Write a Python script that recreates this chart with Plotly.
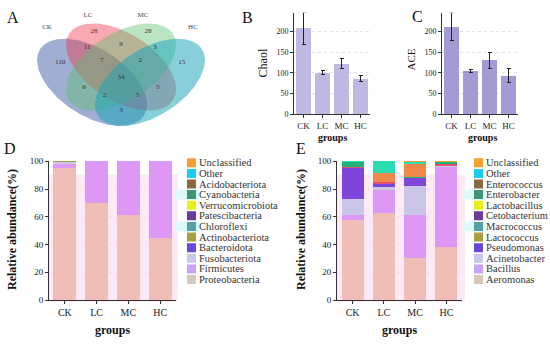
import numpy as np
import plotly.graph_objects as go

W, H = 550, 347
FONT = "Liberation Serif"

# ---------------- data ----------------
venn_sets = ["CK", "LC", "MC", "HC"]
venn_counts = [110, 28, 28, 15, 11, 9, 3, 7, 2, 34, 6, 5, 2, 5, 3]
# regions: CK, LC, MC, HC, CK&LC, LC&MC, MC&HC, CK&LC&MC, LC&MC&HC, all, CK&MC, LC&HC, CK&MC&HC, CK&LC&HC, CK&HC

groups = ["CK", "LC", "MC", "HC"]
chao1_mean = [207, 100, 122, 86]
chao1_sd = [39, 5.5, 13, 7.5]
ace_mean = [211, 104, 130, 93]
ace_sd = [34, 3, 19, 16]

# Panel D (phylum), stacked bottom -> top
phyla = ["Proteobacteria", "Firmicutes", "Fusobacteriota", "Bacteroidota", "Actinobacteriota",
         "Chloroflexi", "Patescibacteria", "Verrucomicrobiota", "Cyanobacteria",
         "Acidobacteriota", "Other", "Unclassified"]
proteobacteria = [95.0, 69.8, 61.0, 45.0]
firmicutes = [3.2, 30.1, 38.9, 54.9]
fusobacteriota = [1.5, 0.02, 0.02, 0.02]
bacteroidota = [0.1, 0.02, 0.02, 0.02]
actinobacteriota = [0.05, 0.01, 0.01, 0.01]
chloroflexi = [0.02, 0.01, 0.01, 0.01]
patescibacteria = [0.02, 0.01, 0.01, 0.01]
verrucomicrobiota = [0.02, 0.01, 0.01, 0.01]
cyanobacteria = [0.02, 0.01, 0.01, 0.01]
acidobacteriota = [0.02, 0.01, 0.01, 0.01]
other_phylum = [0.03, 0.01, 0.01, 0.01]
unclassified_phylum = [0.02, 0.01, 0.01, 0.01]
phylum_values = [proteobacteria, firmicutes, fusobacteriota, bacteroidota, actinobacteriota,
                 chloroflexi, patescibacteria, verrucomicrobiota, cyanobacteria,
                 acidobacteriota, other_phylum, unclassified_phylum]

# Panel E (genus), stacked bottom -> top
genera = ["Aeromonas", "Bacillus", "Acinetobacter", "Pseudomonas", "Lactococcus",
          "Macrococcus", "Cetobacterium", "Lactobacillus", "Enterobacter",
          "Enterococcus", "Other", "Unclassified"]
aeromonas = [57.5, 62.8, 30.2, 38.1]
bacillus = [3.5, 16.4, 30.8, 57.9]
acinetobacter = [12.0, 2.2, 20.9, 0.3]
pseudomonas = [22.0, 2.3, 5.7, 0.3]
lactococcus = [0.1, 0.1, 0.0, 0.1]
macrococcus = [0.1, 0.1, 0.0, 0.1]
cetobacterium = [0.7, 1.0, 0.0, 1.2]
lactobacillus = [0.1, 0.1, 0.0, 0.1]
enterobacter = [3.6, 0.2, 1.0, 1.0]
enterococcus = [0.1, 6.4, 9.6, 0.4]
other_genus = [0.2, 8.3, 1.2, 0.3]
unclassified_genus = [0.1, 0.1, 0.6, 0.2]
genus_values = [aeromonas, bacillus, acinetobacter, pseudomonas, lactococcus, macrococcus,
                cetobacterium, lactobacillus, enterobacter, enterococcus, other_genus,
                unclassified_genus]

# ---------------- styles ----------------
phylum_bar_colors = ["#F0BEB6", "#DC98F4", "#C9C6E8", "#6A48D8", "#A8A040", "#58A0A8",
                     "#6C3C98", "#E8F018", "#3E9474", "#8A6840", "#18CFF0", "#F7A030"]
legend_colors = ["#D8C8BC", "#C8A4F8", "#C8C8EC", "#6848D8", "#A8A040", "#58A0A8",
                 "#6C3C98", "#E8F018", "#3E9474", "#8A6840", "#18CFF0", "#F7A030"]
genus_bar_colors = ["#F0BEB6", "#DC98F4", "#C9C6E8", "#7E46D8", "#A8A040", "#4AA0A0",
                    "#E2506E", "#E8F030", "#20B07A", "#F0884A", "#2CDCB2", "#F5A030"]

venn_fill = ["rgba(55,85,160,0.48)", "rgba(240,50,70,0.42)",
             "rgba(90,190,110,0.42)", "rgba(25,165,185,0.52)"]
venn_geom = [(0.35, 0.47, 135), (0.5, 0.57, 135), (0.5, 0.57, 45), (0.65, 0.47, 45)]
venn_a, venn_b = 0.35, 0.2
venn_count_xy = [(0.185, 0.600), (0.36, 0.804), (0.64, 0.804), (0.815, 0.600),
                 (0.324, 0.699), (0.5, 0.721), (0.676, 0.699), (0.40, 0.613),
                 (0.60, 0.613), (0.5, 0.505), (0.31, 0.435), (0.69, 0.435),
                 (0.415, 0.384), (0.585, 0.384), (0.5, 0.288)]
venn_setlabel_xy = [(0.117, 0.83), (0.329, 0.906), (0.614, 0.906), (0.873, 0.83)]


def px_x(p):
    return p / W


def px_y(p):
    return 1 - p / H


fig = go.Figure()

# ---------------- Panel A : Venn ----------------
t = np.linspace(0, 2 * np.pi, 241)
for (cx, cy, ang), col, name in zip(venn_geom, venn_fill, venn_sets):
    th = np.deg2rad(ang)
    ex = cx + venn_a * np.cos(t) * np.cos(th) - venn_b * np.sin(t) * np.sin(th)
    ey = cy + venn_a * np.cos(t) * np.sin(th) + venn_b * np.sin(t) * np.cos(th)
    fig.add_trace(go.Scatter(x=ex, y=ey, mode="lines", fill="toself", fillcolor=col,
                             line=dict(width=0), hoverinfo="skip", showlegend=False,
                             xaxis="x", yaxis="y", name=name))
fig.add_trace(go.Scatter(x=[p[0] for p in venn_count_xy], y=[p[1] for p in venn_count_xy],
                         mode="text", text=[str(v) for v in venn_counts],
                         textfont=dict(family=FONT, size=7, color="#333333"),
                         showlegend=False, xaxis="x", yaxis="y"))
fig.add_trace(go.Scatter(x=[p[0] for p in venn_setlabel_xy], y=[p[1] for p in venn_setlabel_xy],
                         mode="text", text=venn_sets,
                         textfont=dict(family=FONT, size=7, color="#444444"),
                         showlegend=False, xaxis="x", yaxis="y"))

# ---------------- Panels B, C ----------------
err_style = dict(type="data", color="#222222", thickness=1, width=2)
fig.add_trace(go.Bar(x=groups, y=chao1_mean, error_y=dict(array=chao1_sd, **err_style),
                     marker=dict(color="#BEB8E2", line=dict(width=0)), width=0.84,
                     cliponaxis=False, showlegend=False, xaxis="x2", yaxis="y2"))
fig.add_trace(go.Bar(x=groups, y=ace_mean, error_y=dict(array=ace_sd, **err_style),
                     marker=dict(color="#A29BD4", line=dict(width=0)), width=0.74,
                     cliponaxis=False, showlegend=False, xaxis="x3", yaxis="y3"))

# ---------------- Panel D ----------------
for name, vals, col in zip(phyla, phylum_values, phylum_bar_colors):
    fig.add_trace(go.Bar(x=groups, y=vals, name=name, marker=dict(color=col, line=dict(width=0)),
                         width=0.73, showlegend=False, xaxis="x4", yaxis="y4"))

# ---------------- Panel E ----------------
for name, vals, col in zip(genera, genus_values, genus_bar_colors):
    fig.add_trace(go.Bar(x=groups, y=vals, name=name, marker=dict(color=col, line=dict(width=0)),
                         width=0.71, showlegend=False, xaxis="x5", yaxis="y5"))

# ---------------- hand-made legends ----------------
ann = []
LEG_TOP, LEG_STEP = 163, 10.9
for names, ax, ay, x_sw, x_tx in [(phyla, "x6", "y6", 191.5, 197.5), (genera, "x7", "y7", 478.5, 484.5)]:
    rev_names = names[::-1]
    rev_cols = legend_colors[::-1]
    ys = [LEG_TOP + LEG_STEP * i for i in range(len(rev_names))]
    fig.add_trace(go.Scatter(x=[x_sw] * len(ys), y=ys, mode="markers",
                             marker=dict(symbol="square", size=9, color=rev_cols, line=dict(width=0)),
                             showlegend=False, xaxis=ax, yaxis=ay, hoverinfo="skip"))
    for nm, yy in zip(rev_names, ys):
        ann.append(dict(x=x_tx, y=yy, xref=ax, yref=ay, text=nm, showarrow=False,
                        xanchor="left", yanchor="middle", borderpad=0,
                        font=dict(family=FONT, size=10.5, color="#333333")))

# ---------------- layout ----------------
def bar_x(d0, d1, size):
    return dict(domain=[px_x(d0), px_x(d1)], range=[-0.5, 3.5], showline=True, linecolor="#333333",
                linewidth=1, ticks="outside", ticklen=3, tickcolor="#333333",
                tickfont=dict(family=FONT, size=size, color="#222222"), showgrid=False,
                zeroline=False, fixedrange=True)


def bar_y(top, bot, rng, dtick, size, gridcol):
    return dict(domain=[px_y(bot), px_y(top)], range=rng, dtick=dtick, showline=True,
                linecolor="#333333", linewidth=1, ticks="outside", ticklen=3, tickcolor="#333333",
                tickfont=dict(family=FONT, size=size, color="#222222"), showgrid=True,
                gridcolor=gridcol, griddash="dot", gridwidth=1, zeroline=False)


hidden = dict(visible=False, showgrid=False, zeroline=False)

layout = dict(
    width=W, height=H, margin=dict(l=0, r=0, t=0, b=0), paper_bgcolor="white",
    plot_bgcolor="rgba(0,0,0,0)", barmode="stack", bargap=0.2, showlegend=False,
    xaxis=dict(domain=[0, px_x(215)], range=[0.5 - 121 / 193, 0.5 + 94 / 193], **hidden),
    yaxis=dict(domain=[px_y(140), 1], range=[0.855 - 120 / 157, 0.855 + 20 / 157], **hidden),
    xaxis2=dict(bar_x(294, 370, 9), anchor="y2"),
    yaxis2=dict(bar_y(9, 113, [0, 245], 50, 8, "#E4E4E4"), anchor="x2"),
    xaxis3=dict(bar_x(442, 518, 9), anchor="y3"),
    yaxis3=dict(bar_y(9, 113, [0, 245], 50, 8, "#E4E4E4"), anchor="x3"),
    xaxis4=dict(bar_x(49, 176, 10), anchor="y4"),
    yaxis4=dict(bar_y(160.7, 304, [0, 100.5], 20, 9, "#F6D8F0"), anchor="x4"),
    xaxis5=dict(bar_x(337, 462, 10), anchor="y5"),
    yaxis5=dict(bar_y(160.7, 304, [0, 100.5], 20, 9, "#F6D8F0"), anchor="x5"),
    xaxis6=dict(domain=[px_x(180), px_x(280)], range=[180, 280], anchor="y6", **hidden),
    yaxis6=dict(domain=[px_y(300), px_y(150)], range=[300, 150], anchor="x6", **hidden),
    xaxis7=dict(domain=[px_x(466), px_x(550)], range=[466, 550], anchor="y7", **hidden),
    yaxis7=dict(domain=[px_y(300), px_y(150)], range=[300, 150], anchor="x7", **hidden),
)


def txt(x, y, s, size, bold=False, angle=0, color="#111111"):
    return dict(x=px_x(x), y=px_y(y), xref="paper", yref="paper", text=("<b>%s</b>" % s) if bold else s,
                showarrow=False, xanchor="center", yanchor="middle", textangle=angle,
                font=dict(family=FONT, size=size, color=color))


ann += [
    txt(13, 14, "A", 16), txt(247, 14, "B", 16), txt(417, 13, "C", 16),
    txt(10, 148, "D", 16), txt(301, 148, "E", 16),
    txt(263, 61, "Chaol", 12, angle=-90), txt(411, 57, "ACE", 11, angle=-90),
    txt(332, 137, "groups", 10, bold=True), txt(482, 137, "groups", 10, bold=True),
    txt(112, 335, "groups", 12, bold=True), txt(399, 335, "groups", 12, bold=True),
    txt(12, 232, "Relative abundance(%)", 12, bold=True, angle=-90),
    txt(301, 232, "Relative abundance(%)", 12, bold=True, angle=-90),
]
layout["annotations"] = ann

shapes = []
# pale pink band behind the lower part of D and E
for x0, x1 in [(48, 178), (336, 465)]:
    shapes.append(dict(type="rect", xref="paper", yref="paper", x0=px_x(x0), x1=px_x(x1),
                       y0=px_y(306), y1=px_y(175), fillcolor="#FDE9F8", line=dict(width=0),
                       layer="below"))
# pale cyan highlights
for x0, x1 in [(176, 199), (463, 486)]:
    for row in [3, 6]:
        yc = LEG_TOP + LEG_STEP * row
        shapes.append(dict(type="rect", xref="paper", yref="paper", x0=px_x(x0), x1=px_x(x1),
                           y0=px_y(yc + 5), y1=px_y(yc - 5), fillcolor="#DDFBFB",
                           line=dict(width=0), layer="below"))
layout["shapes"] = shapes

fig.update_layout(**layout)
fig.write_html("out.html", include_plotlyjs=True, config={"staticPlot": True},
               post_script="document.body.style.margin='0';document.body.style.overflow='hidden';")
